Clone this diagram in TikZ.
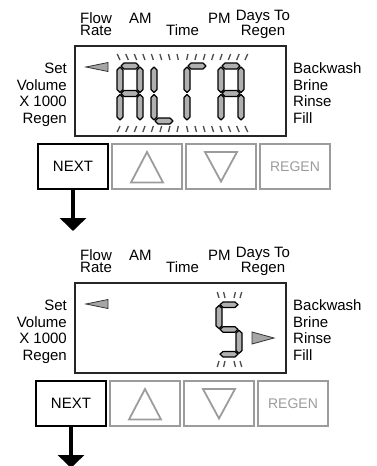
\documentclass[tikz,border=0pt]{standalone}
\usepackage{fontspec}
\setmainfont{Liberation Sans}
\usetikzlibrary{arrows.meta}

\definecolor{btngray}{HTML}{9C9C9C}
\definecolor{seggray}{HTML}{B0B0B0}

% one LCD segment: x, y of the left (top) tip, length
\newcommand\hseg[3]{\filldraw[lcdseg] (#1,#2) -- ++(3,-3) -- ++(#3-6,0) -- ++(3,3) -- ++(-3,3) -- ++(6-#3,0) -- cycle;}
\newcommand\vseg[3]{\filldraw[lcdseg] (#1,#2) -- ++(3,3) -- ++(0,#3-6) -- ++(-3,3) -- ++(-3,-3) -- ++(0,6-#3) -- cycle;}
% the seven segments of a 26 x 61 digit
\newcommand\segtop{\hseg{4}{3}{18}}
\newcommand\segmid{\hseg{4}{30.5}{18}}
\newcommand\segbot{\hseg{4}{58}{18}}
\newcommand\segul{\vseg{3}{4}{25.5}}
\newcommand\segll{\vseg{3}{31.5}{25.5}}
\newcommand\segur{\vseg{23}{4}{25.5}}
\newcommand\seglr{\vseg{23}{31.5}{25.5}}

\begin{document}
\begin{tikzpicture}[
    x=1pt, y=-1pt,
    lbl/.style = {inner sep=0pt, font=\fontsize{15}{11.5}\selectfont},
    sidelbl/.style = {inner sep=0pt, font=\fontsize{15}{16.6}\selectfont},
    lcdframe/.style = {draw=black!85, line width=2pt, minimum width=211pt, minimum height=90pt, inner sep=0pt},
    btn/.style = {draw=btngray, line width=2pt, minimum width=70pt, minimum height=45pt, inner sep=0pt},
    btnglyph/.style = {draw=btngray, line width=1.8pt, line join=miter},
    lcdseg/.style = {fill=seggray, draw=black, line width=1.2pt, line join=round},
    lcdtick/.style = {draw=black!70, line width=1.3pt},
    pointer/.style = {fill=gray!70, draw=black!80, line width=0.8pt},
    arrow/.style = {draw, -{Triangle[width=26pt,length=13pt]}, line width=3.5pt}
]
    \path[use as bounding box, fill=white] (0,0) rectangle (377,466);

    % the two screens share labels, frame and buttons
    \foreach \dy/\dx/\p in {0/0/1, 237/-2/2} {
    \begin{scope}[shift={(0,\dy)}]
        \node[lbl, align=left, anchor=base west] (flow\p) at (80,35) {Flow\\Rate};
        \node[lbl, anchor=base west] (am\p) at (129,23.8) {AM};
        \node[lbl, anchor=base west] (time\p) at (166,35) {Time};
        \node[lbl, anchor=base west] (pm\p) at (208,23.8) {PM};
        \node[lbl, align=center, anchor=base] (days\p) at (263,35) {Days To\\Regen};

        \node[sidelbl, align=right, anchor=base east] (set\p) at (67,123.2) {Set\\Volume\\X 1000\\Regen};
        \node[sidelbl, align=left, anchor=base west] (cycle\p) at (293,123.2) {Backwash\\Brine\\Rinse\\Fill};

        \node[lcdframe] (lcd\p) at (180.5,91) {};
        \filldraw[pointer] (86,67) -- (108,62.5) -- (108,71.5) -- cycle;

        \node[btn, draw=black, font=\fontsize{15}{15}\selectfont] (next\p) at (73+\dx,166.5) {NEXT};
        \node[btn] (up\p) at (147+\dx,166.5) {};
        \node[btn] (down\p) at (221+\dx,166.5) {};
        \node[btn, text=btngray, font=\fontsize{14}{14}\selectfont] (regen\p) at (295+\dx,166.5) {REGEN};
        \draw[btnglyph] (up\p.center) ++(0,-14.5) -- ++(16,30.5) -- ++(-32,0) -- cycle;
        \draw[btnglyph] (down\p.center) ++(-16,-14.5) -- ++(32,0) -- ++(-16,29.5) -- cycle;

        \coordinate (nextend\p) at (73+\dx,231);
        \path[arrow] (next\p) -- (nextend\p);
    \end{scope}
    }

    % ALFA, blinking
    \begin{scope}[shift={(117,63)}]
        \foreach \s in {top,ul,ur,mid,ll,lr} {\csname seg\s\endcsname}
    \end{scope}
    \begin{scope}[shift={(151,63)}]
        \foreach \s in {ul,ll,bot} {\csname seg\s\endcsname}
    \end{scope}
    \begin{scope}[shift={(184,63)}]
        \foreach \s in {top,ul,ll} {\csname seg\s\endcsname}
    \end{scope}
    \begin{scope}[shift={(218,63)}]
        \foreach \s in {top,ul,ur,mid,ll,lr} {\csname seg\s\endcsname}
    \end{scope}
    \foreach \i in {0,...,15} {
        \pgfmathsetmacro\tx{120+\i*8.33}
        \pgfmathsetmacro\ts{sign(\tx-182.5)*1.2+(\tx-182.5)*0.025}
        \draw[lcdtick] (\tx,60) -- ++(\ts,-6);
        \draw[lcdtick] (\tx,126) -- ++(\ts,6);
    }

    % 5, blinking
    \begin{scope}[shift={(216,302)}, yscale=0.9]
        \foreach \s in {top,ul,mid,lr,bot} {\csname seg\s\endcsname}
    \end{scope}
    \foreach \tx in {219,225,234,240} {
        \pgfmathsetmacro\ts{sign(\tx-229.5)*1.2+(\tx-229.5)*0.05}
        \draw[lcdtick] (\tx,298) -- ++(\ts,-6);
        \draw[lcdtick] (\tx,361) -- ++(\ts,6);
    }
    \filldraw[pointer] (274,338) -- (252,332) -- (252,344) -- cycle;
\end{tikzpicture}
\end{document}
